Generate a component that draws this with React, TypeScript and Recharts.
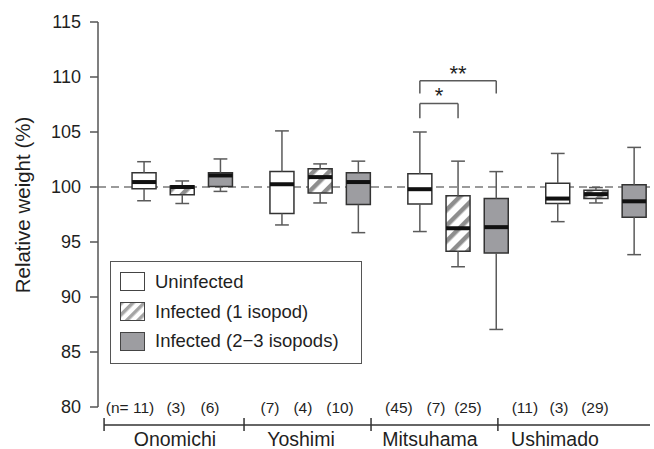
import React from "react";
import {
  ComposedChart,
  XAxis,
  YAxis,
  CartesianGrid,
  ReferenceArea,
  ReferenceLine,
  Scatter,
  Legend,
} from "recharts";

// sites and infection classes
const SITES = ["Onomichi", "Yoshimi", "Mitsuhama", "Ushimado"];
const GROUPS = ["Uninfected", "Infected (1 isopod)", "Infected (2\u22123 isopods)"];
const SAMPLE_N = ["(n= 11)", "(3)", "(6)", "(7)", "(4)", "(10)", "(45)", "(7)", "(25)", "(11)", "(3)", "(29)"];

// one value per box, site by site (uninfected, 1 isopod, 2-3 isopods)
const WHISK_LOW = [98.75, 98.5, 99.6, 96.55, 98.55, 95.85, 95.95, 92.75, 87.05, 96.85, 98.55, 93.85];
const Q1 = [99.85, 99.3, 100.05, 97.6, 99.45, 98.4, 98.45, 94.15, 94.0, 98.5, 98.95, 97.25];
const MEDIAN = [100.45, 100.0, 101.05, 100.25, 100.9, 100.45, 99.8, 96.25, 96.35, 98.95, 99.35, 98.7];
const Q3 = [101.3, 100.1, 101.3, 101.4, 101.65, 101.3, 101.2, 99.2, 98.95, 100.35, 99.7, 100.2];
const WHISK_HIGH = [102.3, 100.55, 102.55, 105.1, 102.1, 102.35, 105.0, 102.35, 101.4, 103.05, 99.95, 103.6];

const Y_TICKS = [80, 85, 90, 95, 100, 105, 110, 115];
const REFERENCE_LEVEL = 100;

// significance brackets (Mitsuhama)
const SIG_TEXT = ["*", "**"];
const SIG_FROM = [6, 6];
const SIG_TO = [7, 8];
const SIG_TOP = [107.6, 109.65];
const SIG_LEG = [106.25, 108.5];

// layout on the x axis (site index units)
const X_MIN = -0.611;
const X_MAX = 3.392;
const BOX_STEP = 0.277;
const BOX_HALF = 0.087;
const CAP_HALF = 0.05;
const N_LABEL_X = [-0.379, -0.046, 0.201, 0.636, 0.875, 1.144, 1.571, 1.84, 2.072, 2.485, 2.732, 2.993];
const SITE_LABEL_X = [-0.053, 0.861, 1.796, 2.703];
const SITE_EDGE_X = [-0.567, 0.448, 1.369, 2.289];
const PX_PER_UNIT = 552 / (X_MAX - X_MIN);

const FILLS = ["#ffffff", "url(#hatch)", "#9d9da1"];
const TEXT = "#1f1f1f";

const boxes = MEDIAN.map((m, i) => ({
  x: Math.floor(i / 3) + ((i % 3) - 1) * BOX_STEP,
  group: i % 3,
  lo: WHISK_LOW[i],
  q1: Q1[i],
  y: m,
  q3: Q3[i],
  hi: WHISK_HIGH[i],
}));

const tickInfo = new Map<number, { kind: string; text: string }>();
N_LABEL_X.forEach((v, i) => tickInfo.set(v, { kind: "n", text: SAMPLE_N[i] }));
SITE_LABEL_X.forEach((v, i) => tickInfo.set(v, { kind: "site", text: SITES[i] }));
SITE_EDGE_X.forEach((v, i) => tickInfo.set(v, { kind: i === 0 ? "first" : "edge", text: "" }));
const X_TICKS = [...N_LABEL_X, ...SITE_LABEL_X, ...SITE_EDGE_X];

const BottomTick = (props: any) => {
  const { x, y, payload } = props;
  const info = tickInfo.get(payload.value);
  if (!info) return null;
  if (info.kind === "n") {
    return (
      <text x={x} y={y + 6} textAnchor="middle" fontSize={15.5} fill={TEXT}>
        {info.text}
      </text>
    );
  }
  if (info.kind === "site") {
    return (
      <text x={x} y={y + 38.5} textAnchor="middle" fontSize={19.5} fill={TEXT}>
        {info.text}
      </text>
    );
  }
  return (
    <g stroke="#333" strokeWidth={1.5}>
      <line x1={x} x2={x} y1={y + 11} y2={y + 24} />
      {info.kind === "first" && (
        <line x1={x} x2={x + (X_MAX - payload.value) * PX_PER_UNIT} y1={y + 18} y2={y + 18} />
      )}
    </g>
  );
};

const MedianMark = (props: any) => (
  <rect x={props.cx - 12} y={props.cy - 2} width={24} height={4} fill="#111" />
);

const YLabel = () => (
  <text
    x={30}
    y={205}
    transform="rotate(-90 30 205)"
    textAnchor="middle"
    fontSize={20.5}
    fill={TEXT}
  >
    Relative weight (%)
  </text>
);

const Swatch = ({ i }: { i: number }) => (
  <svg width={25} height={19} style={{ display: "block" }}>
    <defs>
      <pattern id="hatch-legend" patternUnits="userSpaceOnUse" width="8" height="8" patternTransform="rotate(45)">
        <rect width="8" height="8" fill="#fff" />
        <rect width="3.5" height="8" fill="#a5a5a5" />
      </pattern>
    </defs>
    <rect
      x={0.5}
      y={0.5}
      width={24}
      height={18}
      fill={i === 1 ? "url(#hatch-legend)" : FILLS[i]}
      stroke="#444"
      strokeWidth={1}
    />
  </svg>
);

const LegendBox = () => (
  <div
    style={{
      width: 252,
      height: 103,
      boxSizing: "border-box",
      border: "1.5px solid #555",
      background: "#fff",
      paddingTop: 5,
      paddingLeft: 9,
      fontSize: 18.5,
      color: TEXT,
    }}
  >
    {GROUPS.map((g, i) => (
      <div key={g} style={{ display: "flex", alignItems: "center", height: 29.7 }}>
        <Swatch i={i} />
        <span style={{ marginLeft: 10, whiteSpace: "nowrap" }}>{g}</span>
      </div>
    ))}
  </div>
);

export default function App() {
  const line = { stroke: "#5a5a5a", strokeWidth: 1.5 };
  return (
    <div
      style={{
        position: "absolute",
        left: 0,
        top: 0,
        width: 654,
        height: 449,
        background: "#fff",
        fontFamily: "'Liberation Sans', Arial, Helvetica, sans-serif",
      }}
    >
      <ComposedChart width={654} height={449} margin={{ top: 22, right: 4, bottom: 0, left: 0 }}>
        <defs>
          <pattern id="hatch" patternUnits="userSpaceOnUse" width="11" height="11" patternTransform="rotate(45)">
            <rect width="11" height="11" fill="#fff" />
            <rect width="4.5" height="11" fill="#8e8e8e" />
          </pattern>
        </defs>
        <CartesianGrid
          vertical={false}
          horizontalValues={[REFERENCE_LEVEL]}
          stroke="#9a9a9a"
          strokeWidth={2}
          strokeDasharray="8 5"
        />
        <XAxis
          type="number"
          dataKey="x"
          domain={[X_MIN, X_MAX]}
          ticks={X_TICKS}
          interval={0}
          axisLine={false}
          tickLine={false}
          tickSize={0}
          tickMargin={0}
          height={42}
          tick={BottomTick}
          allowDataOverflow
        />
        <YAxis
          type="number"
          dataKey="y"
          domain={[80, 115]}
          ticks={Y_TICKS}
          interval={0}
          width={98}
          tickSize={8}
          tickMargin={9}
          axisLine={{ stroke: "#555", strokeWidth: 1.5 }}
          tickLine={{ stroke: "#555", strokeWidth: 1.5 }}
          tick={{ fontSize: 18, fill: TEXT }}
          label={<YLabel />}
        />
        {boxes.flatMap((b, i) => [
          <ReferenceLine key={`wl${i}`} segment={[{ x: b.x, y: b.lo }, { x: b.x, y: b.q1 }]} {...line} />,
          <ReferenceLine key={`wh${i}`} segment={[{ x: b.x, y: b.q3 }, { x: b.x, y: b.hi }]} {...line} />,
          <ReferenceLine
            key={`cl${i}`}
            segment={[{ x: b.x - CAP_HALF, y: b.lo }, { x: b.x + CAP_HALF, y: b.lo }]}
            {...line}
          />,
          <ReferenceLine
            key={`ch${i}`}
            segment={[{ x: b.x - CAP_HALF, y: b.hi }, { x: b.x + CAP_HALF, y: b.hi }]}
            {...line}
          />,
          <ReferenceArea
            key={`box${i}`}
            x1={b.x - BOX_HALF}
            x2={b.x + BOX_HALF}
            y1={b.q1}
            y2={b.q3}
            fill={FILLS[b.group]}
            fillOpacity={1}
            stroke="#333"
            strokeWidth={1.5}
          />,
        ])}
        {SIG_TEXT.flatMap((s, i) => {
          const a = boxes[SIG_FROM[i]].x;
          const c = boxes[SIG_TO[i]].x;
          return [
            <ReferenceLine key={`sl${i}`} segment={[{ x: a, y: SIG_LEG[i] }, { x: a, y: SIG_TOP[i] }]} {...line} />,
            <ReferenceLine key={`sr${i}`} segment={[{ x: c, y: SIG_LEG[i] }, { x: c, y: SIG_TOP[i] }]} {...line} />,
            <ReferenceLine
              key={`st${i}`}
              segment={[{ x: a, y: SIG_TOP[i] }, { x: c, y: SIG_TOP[i] }]}
              {...line}
              label={{ value: s, position: "top", offset: 0, fontSize: 22, fill: TEXT }}
            />,
          ];
        })}
        <Scatter data={boxes} shape={MedianMark} isAnimationActive={false} />
        <Legend
          layout="vertical"
          align="center"
          verticalAlign="middle"
          wrapperStyle={{ left: 110, top: 261, width: 252, height: 103 }}
          content={() => <LegendBox />}
        />
      </ComposedChart>
    </div>
  );
}
